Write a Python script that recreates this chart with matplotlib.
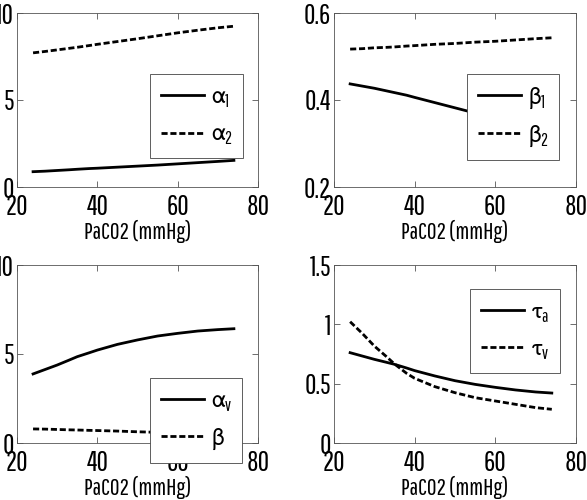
import matplotlib
matplotlib.use("Agg")
import matplotlib.pyplot as plt

plt.rcParams['font.family'] = ['Pathway Gothic One', 'DejaVu Sans']
plt.rcParams['mathtext.fontset'] = 'dejavusans'
plt.rcParams['mathtext.default'] = 'regular'

# Data (PaCO2 in mmHg)
paco2 = [24, 27, 30, 33, 35, 38, 40, 45, 50, 55, 60, 65, 70, 74]
alpha1 = [0.88, 0.91, 0.95, 0.99, 1.02, 1.06, 1.08, 1.14, 1.20, 1.26, 1.33, 1.40, 1.47, 1.53]
alpha2 = [7.71, 7.79, 7.88, 7.97, 8.03, 8.13, 8.20, 8.36, 8.52, 8.69, 8.86, 9.01, 9.15, 9.24]
beta1 = [0.437, 0.432, 0.427, 0.421, 0.417, 0.411, 0.406, 0.394, 0.382, 0.370, 0.358, 0.347, 0.337, 0.329]
beta2 = [0.517, 0.518, 0.520, 0.521, 0.522, 0.524, 0.525, 0.528, 0.530, 0.533, 0.535, 0.538, 0.541, 0.543]
alphav = [3.88, 4.13, 4.38, 4.66, 4.85, 5.07, 5.22, 5.54, 5.79, 6.01, 6.16, 6.29, 6.37, 6.42]
beta = [0.79, 0.78, 0.76, 0.74, 0.73, 0.71, 0.70, 0.67, 0.63, 0.60, 0.56, 0.53, 0.50, 0.47]
tau_a = [0.761, 0.733, 0.705, 0.680, 0.663, 0.632, 0.610, 0.565, 0.525, 0.494, 0.469, 0.447, 0.430, 0.421]
tau_v = [1.022, 0.924, 0.817, 0.728, 0.666, 0.587, 0.545, 0.475, 0.424, 0.382, 0.354, 0.326, 0.298, 0.284]

xticks = [20, 40, 60, 80]
xlabel = "PaCO2 (mmHg)"

fig = plt.figure(figsize=(5.87, 5.0), dpi=100)

panels = [
    ([17/587, 1-187/500, 241/587, 174/500], alpha1, alpha2, r'$\alpha_1$', r'$\alpha_2$',
     (0, 10), [0, 5, 10], ['0', '5', '10'], (0.552, 0.649)),
    ([334/587, 1-187/500, 242/587, 174/500], beta1, beta2, r'$\beta_1$', r'$\beta_2$',
     (0.2, 0.6), [0.2, 0.4, 0.6], ['0.2', '0.4', '0.6'], (0.55, 0.649)),
    ([17/587, 1-443/500, 241/587, 178/500], alphav, beta, r'$\alpha_v$', r'$\beta$',
     (0, 10), [0, 5, 10], ['0', '5', '10'], (0.552, 0.365)),
    ([334/587, 1-443/500, 242/587, 178/500], tau_a, tau_v, r'$\tau_a$', r'$\tau_v$',
     (0, 1.5), [0, 0.5, 1, 1.5], ['0', '0.5', '1', '1.5'], (0.562, 0.865)),
]

for rect, s1, s2, l1, l2, ylim, yt, ytl, anchor in panels:
    ax = fig.add_axes(rect)
    ax.plot(paco2, s1, color='black', lw=2.0, label=l1)
    ax.plot(paco2, s2, color='black', lw=2.0, dashes=(2.2, 1.0), label=l2)
    ax.set_xlim(20, 80)
    ax.set_ylim(*ylim)
    ax.set_xticks(xticks)
    ax.set_xticklabels([str(v) for v in xticks])
    ax.set_yticks(yt)
    ax.set_yticklabels(ytl)
    ax.tick_params(direction='in', top=True, right=True, labelsize=20, length=4,
                   width=0.6, color='#555555')
    ax.tick_params(axis='x', pad=5)
    ax.tick_params(axis='y', pad=2)
    for sp in ax.spines.values():
        sp.set_linewidth(0.6)
        sp.set_color('#555555')
    ax.set_xlabel(xlabel, fontsize=17, labelpad=0)
    leg = ax.legend(loc='upper left', bbox_to_anchor=anchor, borderaxespad=0,
                    fancybox=False, framealpha=1, edgecolor='#444444', fontsize=18,
                    handlelength=1.75, labelspacing=0.5, handletextpad=0.25,
                    borderpad=0.42)
    leg.get_frame().set_linewidth(0.6)

fig.savefig("out.png", dpi=100)
